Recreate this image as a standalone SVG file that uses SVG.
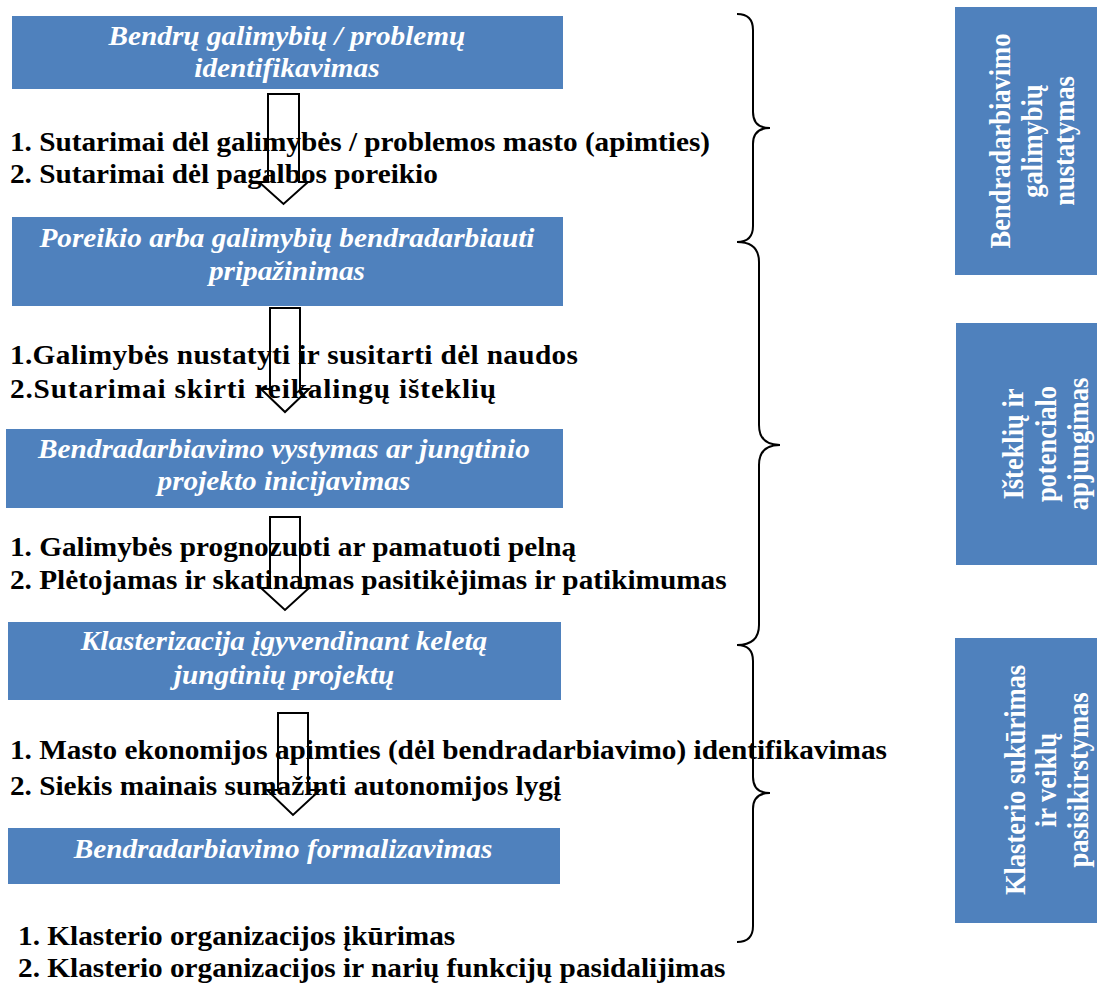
<svg xmlns="http://www.w3.org/2000/svg" width="1097" height="983" viewBox="0 0 1097 983">
<style>
.box{fill:#4F81BD;}
text{font-family:'Liberation Serif','Times New Roman',Tinos,'DejaVu Serif','Noto Serif',serif;}
.bt{font-style:italic;font-weight:bold;font-size:26.5px;fill:#fff;text-anchor:middle;}
.vt{font-weight:bold;font-size:26.5px;fill:#fff;text-anchor:middle;}
.tx{font-weight:bold;font-size:26.5px;fill:#000;}
.ar{fill:none;stroke:#000;stroke-width:2;stroke-linejoin:miter;}
.br{fill:none;stroke:#000;stroke-width:2;}
</style>
<rect width="1097" height="983" fill="#fff"/>
<g id="step1"><rect class="box" x="12" y="16" width="551" height="73"/>
<g transform="scale(1.105,1)"><text class="bt" x="259.7" y="45">Bendrų galimybių / problemų</text>
<text class="bt" x="259.7" y="77">identifikavimas</text></g></g>
<g id="step2"><rect class="box" x="12" y="217" width="551" height="89"/>
<g transform="scale(1.105,1)"><text class="bt" x="259.7" y="247">Poreikio arba galimybių bendradarbiauti</text>
<text class="bt" x="259.7" y="280">pripažinimas</text></g></g>
<g id="step3"><rect class="box" x="6" y="429" width="557" height="79"/>
<g transform="scale(1.105,1)"><text class="bt" x="257" y="458">Bendradarbiavimo vystymas ar jungtinio</text>
<text class="bt" x="257" y="490">projekto inicijavimas</text></g></g>
<g id="step4"><rect class="box" x="8" y="622" width="553" height="78"/>
<g transform="scale(1.105,1)"><text class="bt" x="257" y="650">Klasterizacija įgyvendinant keletą</text>
<text class="bt" x="257" y="684">jungtinių projektų</text></g></g>
<g id="step5"><rect class="box" x="8" y="828" width="552" height="56"/>
<g transform="scale(1.105,1)"><text class="bt" x="256.1" y="858">Bendradarbiavimo formalizavimas</text></g></g>
<g id="texts" transform="scale(1.105,1)">
<text class="tx" x="9" y="151">1. Sutarimai dėl galimybės / problemos masto (apimties)</text>
<text class="tx" x="9" y="183">2. Sutarimai dėl pagalbos poreikio</text>
<text class="tx" x="9" y="364" textLength="514">1.Galimybės nustatyti ir susitarti dėl naudos</text>
<text class="tx" x="9" y="398" textLength="440">2.Sutarimai skirti reikalingų išteklių</text>
<text class="tx" x="9" y="556">1. Galimybės prognozuoti ar pamatuoti pelną</text>
<text class="tx" x="9" y="589">2. Plėtojamas ir skatinamas pasitikėjimas ir patikimumas</text>
<text class="tx" x="9" y="759">1. Masto ekonomijos apimties (dėl bendradarbiavimo) identifikavimas</text>
<text class="tx" x="9" y="795">2. Siekis mainais sumažinti autonomijos lygį</text>
<text class="tx" x="16.3" y="945">1. Klasterio organizacijos įkūrimas</text>
<text class="tx" x="16.3" y="977">2. Klasterio organizacijos ir narių funkcijų pasidalijimas</text>
</g>
<g id="phaseA"><rect class="box" x="955" y="7" width="142" height="268"/>
<text class="vt" transform="translate(1010,141) scale(1.105,1) rotate(-90)">Bendradarbiavimo</text>
<text class="vt" transform="translate(1042,141) scale(1.105,1) rotate(-90)">galimybių</text>
<text class="vt" transform="translate(1074,141) scale(1.105,1) rotate(-90)">nustatymas</text></g>
<g id="phaseB"><rect class="box" x="956" y="323" width="141" height="242"/>
<text class="vt" transform="translate(1023,444) scale(1.105,1) rotate(-90)">Išteklių ir</text>
<text class="vt" transform="translate(1056,444) scale(1.105,1) rotate(-90)">potencialo</text>
<text class="vt" transform="translate(1088,444) scale(1.105,1) rotate(-90)">apjungimas</text></g>
<g id="phaseC"><rect class="box" x="955" y="638" width="142" height="285"/>
<text class="vt" transform="translate(1025,780) scale(1.105,1) rotate(-90)">Klasterio sukūrimas</text>
<text class="vt" transform="translate(1056,780) scale(1.105,1) rotate(-90)">ir veiklų</text>
<text class="vt" transform="translate(1088,780) scale(1.105,1) rotate(-90)">pasisikirstymas</text></g>
<g id="connectors">
<path class="ar" d="M268,94 H299 V182 H308 L283.5,204 L259,182 H268 Z"/>
<path class="ar" d="M270,308 H300 V389 H309 L285,412 L261,389 H270 Z"/>
<path class="ar" d="M270,517 H300 V588 H309 L285,610 L261,588 H270 Z"/>
<path class="ar" d="M278,713 H308 V790 H320 L293,815 L267,790 H278 Z"/>
<path class="br" d="M737,14 Q753,14 753,30 L753,112 Q753,128 770,128 Q753,128 753,144 L753,226 Q753,242 737,242"/>
<path class="br" d="M737,242 Q759,242 759,262 L759,425 Q759,445 780,445 Q759,445 759,465 L759,625 Q759,645 737,645"/>
<path class="br" d="M737,645 Q753,645 753,661 L753,777 Q753,793 770,793 Q753,793 753,809 L753,926 Q753,942 737,942"/>
</g>
</svg>
